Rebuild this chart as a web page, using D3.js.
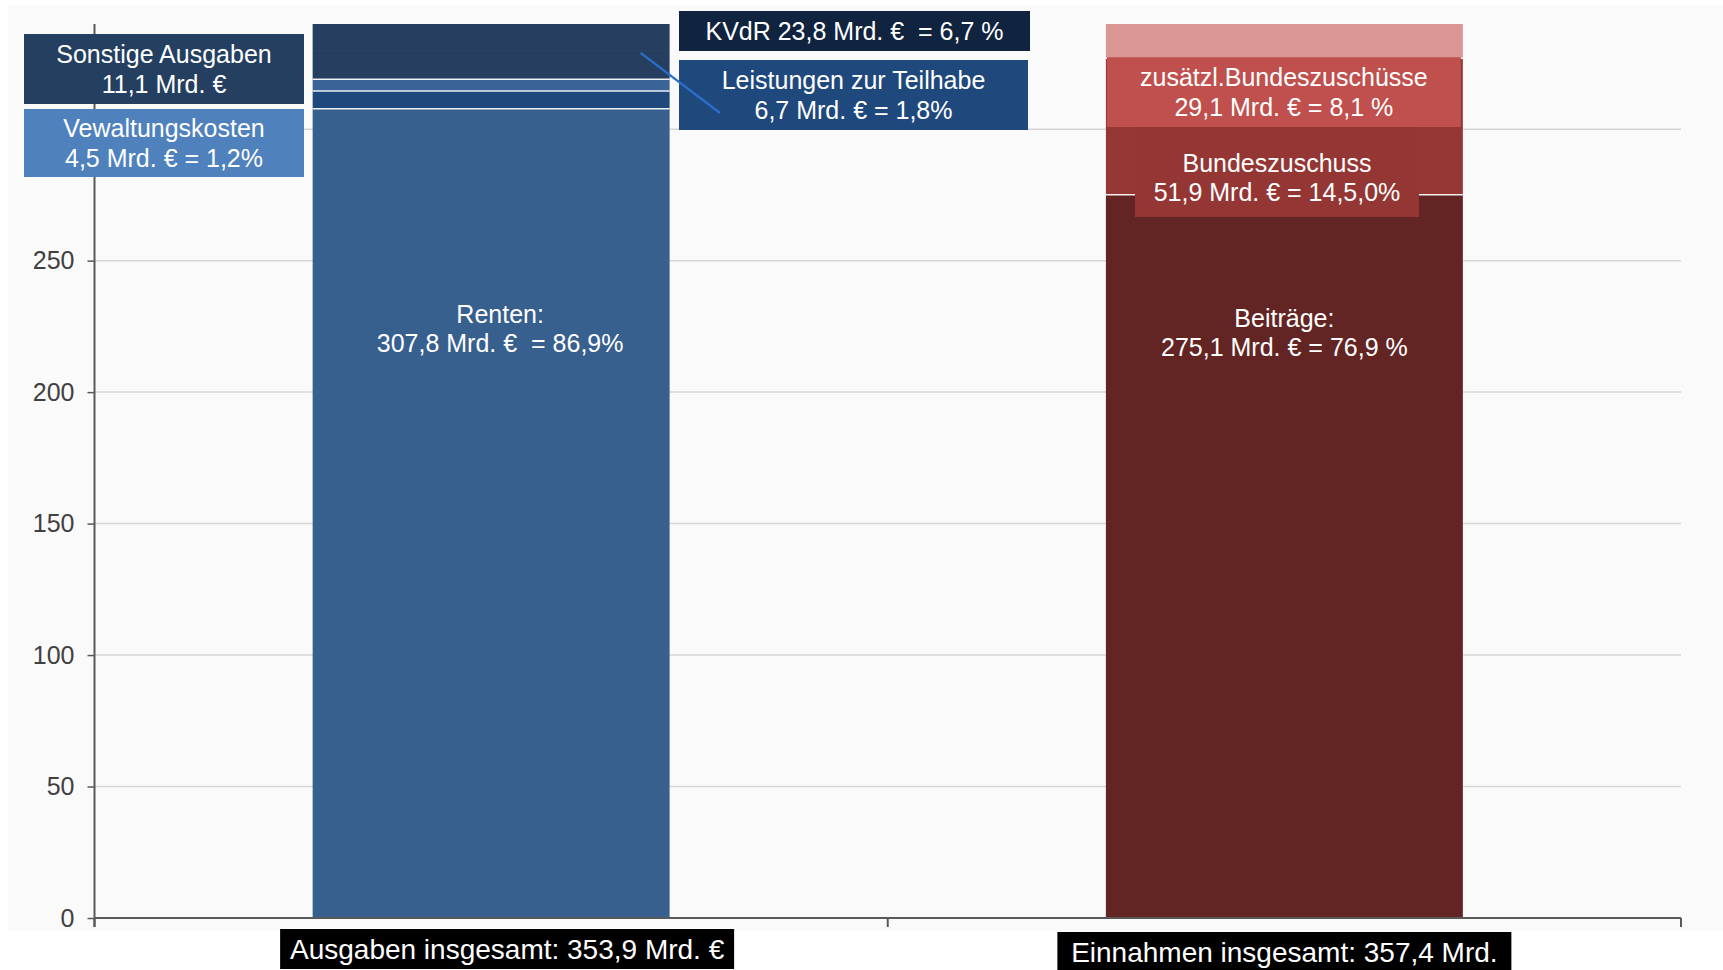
<!DOCTYPE html>
<html>
<head>
<meta charset="utf-8">
<script src="https://cdn.jsdelivr.net/npm/d3@7"></script>
<style>
  html, body { margin: 0; padding: 0; background: #ffffff; }
  svg { display: block; font-family: "Liberation Sans", Arial, sans-serif; }
  text { white-space: pre; }
</style>
</head>
<body>
<svg id="chart" width="1723" height="970"></svg>
<script>
// Rentenversicherung: Ausgaben und Einnahmen (Mrd. €)
const categories = ["Ausgaben", "Einnahmen"];

const ausgabenParts  = ["Renten", "Leistungen zur Teilhabe", "Verwaltungskosten", "Sonstige Ausgaben", "KVdR"];
const ausgabenValues = [307.8, 6.7, 4.5, 11.1, 23.8];
const ausgabenColors = ["#38608f", "#1f497d", "#3a6497", "#263f60", "#263f60"];

const einnahmenParts  = ["Beiträge", "Bundeszuschuss", "zusätzl. Bundeszuschüsse", "Sonstige Einnahmen"];
const einnahmenValues = [275.1, 51.9, 29.1, 1.3];
const einnahmenColors = ["#632523", "#953735", "#d99694", "#d99694"];

const totals = [353.9, 357.4];
const totalLabels = ["Ausgaben insgesamt: 353,9 Mrd. €", "Einnahmen insgesamt: 357,4 Mrd."];
const gridTicks = [50, 100, 150, 200, 250, 300];
const yTickLabels = [0, 50, 100, 150, 200, 250];

const svg = d3.select("#chart");
const W = 1723, H = 970;

// chart panel
svg.append("rect").attr("x", 8).attr("y", 5).attr("width", W - 8).attr("height", 926).attr("fill", "#fafafa");

const x = d3.scaleBand().domain(categories).range([94.5, 1681])
  .paddingInner(0.55).paddingOuter(0.275);
const y = d3.scaleLinear().domain([0, 340]).range([918, 24]);

// gridlines
svg.append("g").selectAll("line").data(gridTicks).join("line")
  .attr("x1", x.range()[0]).attr("x2", x.range()[1])
  .attr("y1", d => y(d)).attr("y2", d => y(d))
  .attr("stroke", "#d6d6d6").attr("stroke-width", 1.5);

// stacked bars, clipped at the top of the value axis
svg.append("clipPath").attr("id", "plotClip").append("rect")
  .attr("x", x.range()[0]).attr("y", y(340)).attr("width", x.range()[1] - x.range()[0]).attr("height", y(0) - y(340));

function stackOf(parts, values, colors) {
  const ends = Array.from(d3.cumsum(values));
  return parts.map((p, i) => ({ part: p, y0: i ? ends[i - 1] : 0, y1: ends[i], color: colors[i],
    sep: i < parts.length - 1 && colors[i + 1] !== colors[i] }));
}
const stacks = [
  { cat: categories[0], segs: stackOf(ausgabenParts, ausgabenValues, ausgabenColors) },
  { cat: categories[1], segs: stackOf(einnahmenParts, einnahmenValues, einnahmenColors) }
];

const bars = svg.append("g").attr("clip-path", "url(#plotClip)");
stacks.forEach(s => {
  const g = bars.append("g");
  g.selectAll("rect").data(s.segs).join("rect")
    .attr("x", x(s.cat)).attr("width", x.bandwidth())
    .attr("y", d => y(d.y1)).attr("height", d => y(d.y0) - y(d.y1))
    .attr("fill", d => d.color);
  g.selectAll("line").data(s.segs.filter(d => d.sep)).join("line")
    .attr("x1", x(s.cat)).attr("x2", x(s.cat) + x.bandwidth())
    .attr("y1", d => y(d.y1)).attr("y2", d => y(d.y1))
    .attr("stroke", "#ffffff").attr("stroke-width", 1.5).attr("stroke-opacity", 0.9);
});

// axes
const axisColor = "#595959";
const yAxis = svg.append("g").attr("transform", `translate(${x.range()[0]},0)`)
  .call(d3.axisLeft(y).tickValues(yTickLabels).tickSize(7).tickSizeOuter(0).tickPadding(13));
yAxis.select(".domain").remove();
yAxis.selectAll(".tick line").attr("stroke", axisColor).attr("stroke-width", 1.5);
yAxis.selectAll(".tick text").attr("fill", "#404040").attr("font-size", 25)
  .attr("font-family", "'Liberation Sans', Arial, sans-serif");
svg.append("line").attr("x1", x.range()[0]).attr("x2", x.range()[0])
  .attr("y1", y(340)).attr("y2", y(0) + 9).attr("stroke", axisColor).attr("stroke-width", 2);

svg.append("line").attr("x1", x.range()[0]).attr("x2", x.range()[1])
  .attr("y1", y(0)).attr("y2", y(0)).attr("stroke", axisColor).attr("stroke-width", 2);
const catTicks = [x.range()[0], x(categories[1]) - x.step() * x.paddingInner() / 2, x.range()[1]];
svg.append("g").selectAll("line").data(catTicks).join("line")
  .attr("x1", d => d).attr("x2", d => d).attr("y1", y(0)).attr("y2", y(0) + 9)
  .attr("stroke", axisColor).attr("stroke-width", 2);

// label boxes
function box(g, b) {
  g.append("rect").attr("x", b.x0).attr("y", b.y0).attr("width", b.x1 - b.x0).attr("height", b.y1 - b.y0)
    .attr("fill", b.fill);
  const cx = b.cx !== undefined ? b.cx : (b.x0 + b.x1) / 2;
  const n = b.lines.length, lh = b.lh || 29.5;
  const cy = b.cy !== undefined ? b.cy : (b.y0 + b.y1) / 2;
  b.lines.forEach((t, i) => {
    g.append("text").attr("x", cx).attr("y", cy + (i - (n - 1) / 2) * lh)
      .attr("text-anchor", "middle").attr("dominant-baseline", "central")
      .attr("fill", "#ffffff").attr("font-size", b.fs || 25).text(t);
  });
}

const xA = x(categories[0]), xE = x(categories[1]), bw = x.bandwidth();
const einEnds = Array.from(d3.cumsum(einnahmenValues));

const ann = svg.append("g");

// leader line to the Teilhabe callout
const leader = [[xA + bw - 29, y(329)], [720, 113]];

box(ann, { x0: 24, x1: 304, y0: 34, y1: 104, fill: "#243f60", lines: ["Sonstige Ausgaben", "11,1 Mrd. €"] });
box(ann, { x0: 24, x1: 304, y0: 109, y1: 177, fill: "#4f81bd", lines: ["Vewaltungskosten", "4,5 Mrd. € = 1,2%"] });
box(ann, { x0: 679, x1: 1030, y0: 11, y1: 51, fill: "#10233f", lines: ["KVdR 23,8 Mrd. €  = 6,7 %"] });
box(ann, { x0: 679, x1: 1028, y0: 60, y1: 130, fill: "#1f497d", lines: ["Leistungen zur Teilhabe", "6,7 Mrd. € = 1,8%"] });

ann.append("line").attr("x1", leader[0][0]).attr("y1", leader[0][1]).attr("x2", leader[1][0]).attr("y2", leader[1][1])
  .attr("stroke", "#2a6fcc").attr("stroke-width", 2.2);

// labels inside the income bar
box(ann, { x0: xE + 1, x1: xE + bw - 2, y0: y(einEnds[1]) - 1, y1: 127, fill: "#c0504d",
  lines: ["zusätzl.Bundeszuschüsse", "29,1 Mrd. € = 8,1 %"] });
box(ann, { x0: 1135, x1: 1419, y0: 127, y1: 217, fill: "#943634", cy: 177.5,
  lines: ["Bundeszuschuss", "51,9 Mrd. € = 14,5,0%"] });

// value labels on the large segments
const inner = [
  { cx: xA + bw / 2 + 9, cy: y(ausgabenValues[0]) + 220, lines: ["Renten:", "307,8 Mrd. €  = 86,9%"] },
  { cx: xE + bw / 2, cy: y(einnahmenValues[0]) + 138, lines: ["Beiträge:", "275,1 Mrd. € = 76,9 %"] }
];
inner.forEach(b => b.lines.forEach((t, i) => {
  ann.append("text").attr("x", b.cx).attr("y", b.cy + (i - 0.5) * 29.5)
    .attr("text-anchor", "middle").attr("dominant-baseline", "central")
    .attr("fill", "#ffffff").attr("font-size", 25).text(t);
}));

// totals under the bars
const totalPos = [
  { cx: xA + bw / 2 + 16, y0: 929, y1: 969 },
  { cx: xE + bw / 2, y0: 932, y1: 972 }
];
categories.forEach((c, i) => {
  const p = totalPos[i];
  box(ann, { x0: p.cx - 227, x1: p.cx + 227, y0: p.y0, y1: p.y1, fill: "#000000", fs: 28,
    lines: [totalLabels[i]] });
});
</script>
</body>
</html>
